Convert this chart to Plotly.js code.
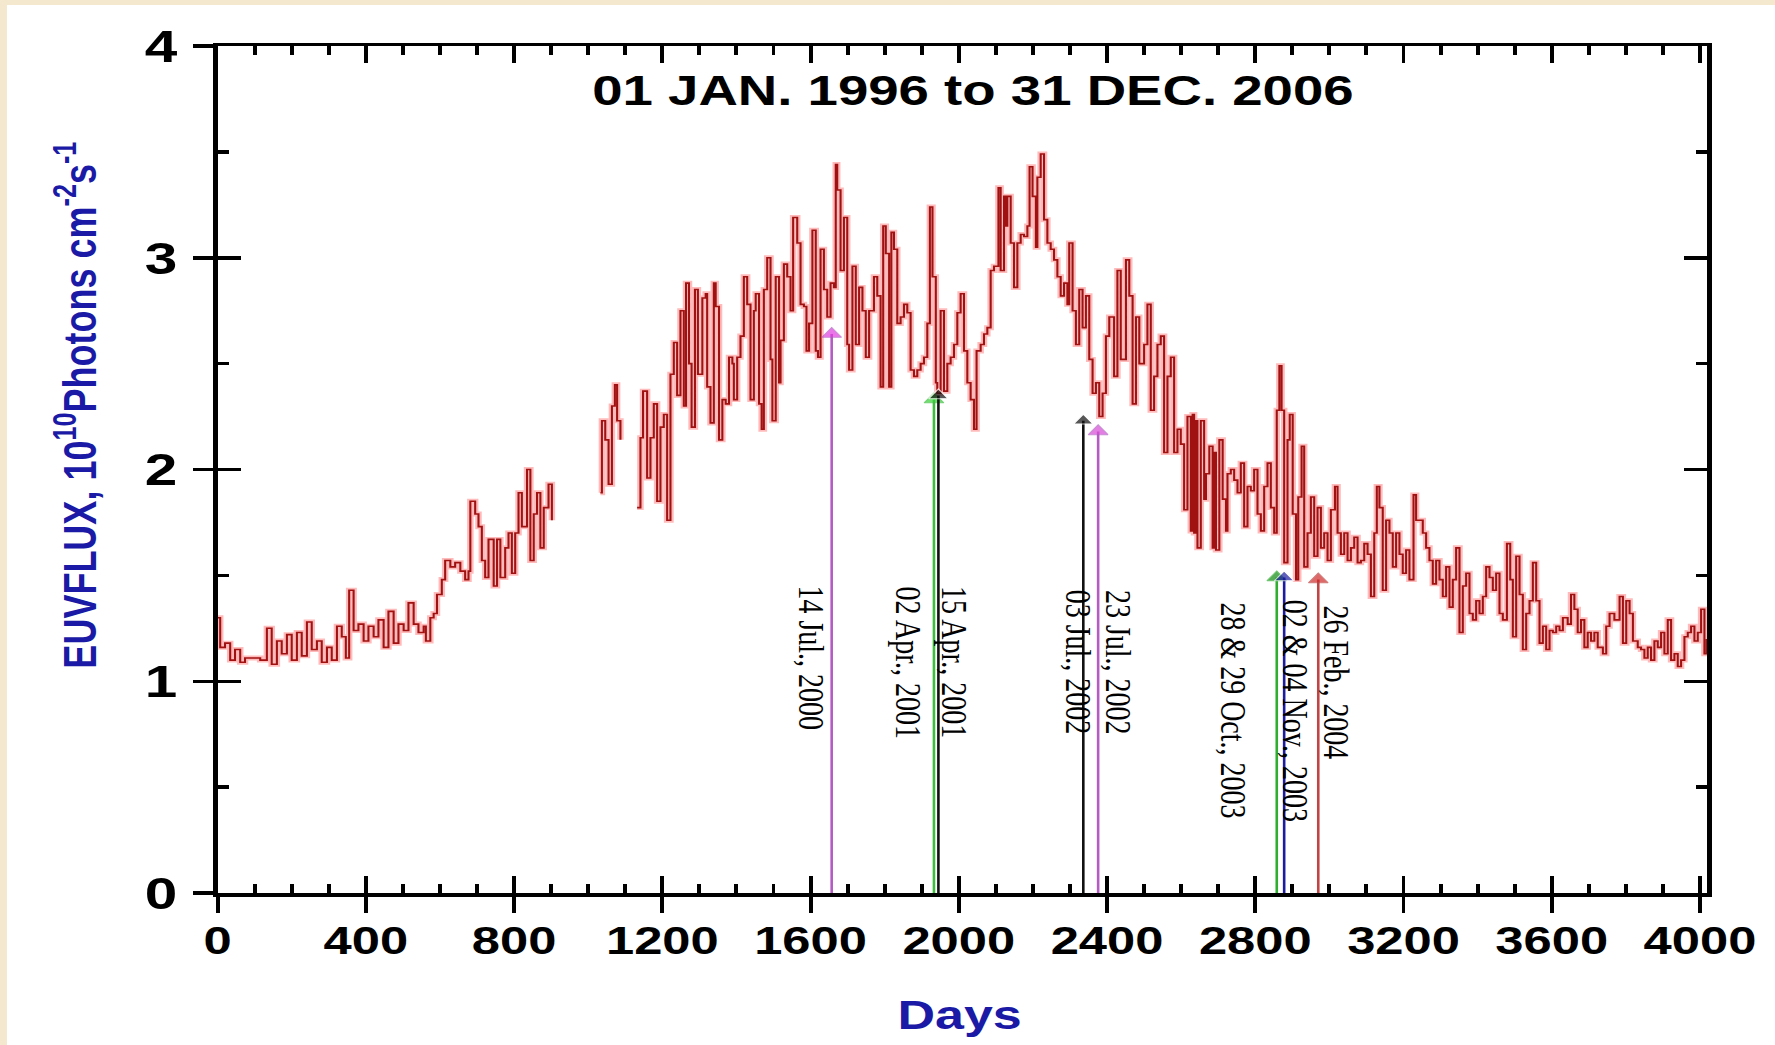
<!DOCTYPE html>
<html>
<head>
<meta charset="utf-8">
<script src="https://cdn.plot.ly/plotly-3.0.1.min.js"></script>
<style>
html,body{margin:0;padding:0;background:#f4e9cf;width:1775px;height:1045px;overflow:hidden;}
#wrap{position:absolute;left:7px;top:5px;width:1768px;height:1040px;background:#ffffff;}
#chart{position:absolute;left:0;top:0;width:1360px;height:1040px;transform:scaleX(1.3);transform-origin:0 0;}
</style>
</head>
<body>
<div id="wrap"><div id="chart"></div></div>
<script>
// ---- data ----
var days = [0,7,20,34,47,61,74,88,101,115,133,146,160,173,187,200,214,227,241,254,268,281,295,308,322,335,346,355,367,380,394,407,421,434,448,461,475,488,502,515,529,542,556,562,574,583,592,605,614,628,641,655,668,677,682,695,704,713,722,731,745,754,763,776,785,794,803,812,821,835,844,853,862,871,880,893,902,
960,
1033,1037,1046,1055,1064,1072,1078,1087,
1110,
1132,1141,1148,1159,1168,1177,1186,1195,1204,1213,1222,1231,1240,1249,1258,1264,1272,1279,1288,1296,
1308,1317,1321,1330,1339,1344,1353,1362,1371,1380,1389,1393,1402,1411,1420,1429,1438,1447,1452,1461,1468,1474,1483,1492,1497,1506,1515,1519,1528,1537,1546,1553,1564,1573,1582,1589,1596,1605,1614,1620,1627,1636,1645,1654,1663,1668,1672,1681,1690,1699,1704,1713,1722,1731,1740,1749,1758,1771,1780,1789,1796,1803,1812,1818,1825,1834,1843,1852,1861,1870,1879,1888,1897,1906,1915,1922,1929,1938,1942,1951,1960,1969,1978,1987,1996,2005,2014,2023,2032,2041,2048,2059,2068,2077,2086,2095,2107,2113,2122,2127,2131,2140,2149,2158,2167,2176,2185,2191,2199,2208,2212,2221,2230,2239,2248,2257,2266,2275,2284,2293,2298,2307,2316,2325,2334,2343,2352,2361,2370,2379,2388,2397,2406,2419,2428,2437,2451,2460,2469,2478,2487,2500,2509,2518,2527,2536,2545,2554,2563,2572,2581,2590,2599,2608,2617,2626,2631,2635,2640,2644,2653,2662,2667,2676,2685,2689,2694,2703,2712,2721,2725,2734,2743,2752,2761,2770,2779,2788,2797,2806,2815,2824,2833,2842,2851,2858,2865,2871,2878,2887,2893,2901,2910,2916,2925,2932,2941,2950,2959,2968,2977,2986,2995,3004,3015,3022,3031,3040,3049,3058,3067,3076,3085,3094,3103,3112,3121,3128,3135,3144,3153,3162,3171,3180,3189,3198,3207,3216,3227,3234,3243,3252,3261,3270,3279,3288,3297,3306,3315,3324,3333,3342,3351,3360,3369,3378,3387,3396,3405,3414,3423,3432,3441,3450,3459,3468,3479,3488,3495,3504,3513,3522,3531,3540,3549,3558,3567,3576,3585,3594,3603,3612,3621,3630,3643,3652,3661,3670,3679,3688,3697,3706,3715,3724,3738,3747,3756,3769,3783,3792,3801,3810,3819,3832,3841,3850,3859,3868,3877,3886,3895,3904,3913,3922,3931,3940,3949,3958,3967,3976,3985,3994,4003,4012,4018];

var euvFlux = [1.30,1.16,1.18,1.10,1.15,1.09,1.11,1.11,1.11,1.10,1.25,1.08,1.19,1.13,1.22,1.10,1.23,1.12,1.28,1.15,1.19,1.09,1.16,1.10,1.26,1.21,1.11,1.43,1.24,1.27,1.19,1.26,1.21,1.29,1.16,1.33,1.18,1.27,1.24,1.37,1.27,1.23,1.26,1.19,1.30,1.32,1.41,1.48,1.57,1.54,1.56,1.52,1.48,1.52,1.85,1.79,1.73,1.57,1.49,1.67,1.45,1.67,1.49,1.63,1.70,1.51,1.70,1.89,1.73,2.00,1.57,1.79,1.89,1.63,1.82,1.93,1.76,
null,
1.89,2.23,2.14,1.93,2.30,2.40,2.23,2.14,
null,
1.82,2.15,2.37,1.96,2.15,2.31,1.85,2.20,2.26,1.76,2.45,2.60,2.35,2.75,2.30,2.88,2.50,2.20,2.85,2.45,
2.81,2.83,2.39,2.22,2.88,2.77,2.14,2.33,2.31,2.53,2.50,2.33,2.53,2.63,2.91,2.78,2.33,2.75,2.83,2.31,2.19,2.85,3.00,2.52,2.23,2.91,2.41,2.61,2.97,2.91,2.75,3.19,3.07,2.78,2.77,2.56,2.69,3.13,2.56,2.53,3.04,2.85,2.72,2.88,2.86,3.44,3.32,2.94,3.19,2.59,2.47,2.96,2.59,2.86,2.75,2.53,2.75,2.91,2.82,2.39,3.15,3.02,2.39,3.12,3.04,2.69,2.72,2.78,2.74,2.47,2.44,2.47,2.50,2.53,2.69,3.24,2.91,2.41,2.36,2.75,2.37,2.50,2.53,2.59,2.74,2.83,2.56,2.41,2.33,2.19,2.56,2.59,2.64,2.67,2.94,2.96,3.33,2.94,3.29,3.15,3.29,3.07,2.86,3.07,3.11,3.10,3.15,3.43,3.29,3.05,3.38,3.49,3.18,3.07,3.04,2.99,2.91,2.82,2.88,2.78,3.07,2.75,2.59,2.85,2.67,2.82,2.52,2.36,2.41,2.25,2.36,2.63,2.72,2.44,2.94,2.52,2.99,2.82,2.31,2.72,2.50,2.59,2.78,2.28,2.44,2.59,2.63,2.08,2.44,2.53,2.08,2.19,2.12,1.81,2.25,1.71,2.26,1.70,2.23,1.63,2.23,1.86,1.98,2.11,1.63,2.08,1.62,2.14,1.86,1.71,1.98,2.00,1.95,1.89,2.03,1.73,1.92,1.90,2.00,1.79,1.71,1.92,2.03,1.82,1.70,2.28,2.49,2.28,1.56,2.14,2.26,1.79,1.48,1.87,2.11,1.54,1.70,1.87,1.59,1.82,1.63,1.70,1.57,1.81,1.92,1.70,1.60,1.70,1.57,1.63,1.68,1.56,1.57,1.65,1.60,1.40,1.70,1.92,1.82,1.43,1.76,1.70,1.54,1.70,1.60,1.51,1.62,1.48,1.88,1.76,1.76,1.70,1.63,1.57,1.46,1.57,1.48,1.40,1.54,1.35,1.48,1.63,1.23,1.45,1.51,1.32,1.29,1.38,1.32,1.40,1.54,1.49,1.43,1.51,1.32,1.29,1.65,1.48,1.21,1.59,1.41,1.15,1.32,1.38,1.56,1.38,1.18,1.26,1.15,1.24,1.23,1.26,1.24,1.30,1.27,1.41,1.34,1.23,1.29,1.16,1.23,1.19,1.23,1.16,1.13,1.26,1.32,1.29,1.40,1.18,1.38,1.32,1.19,1.16,1.15,1.11,1.16,1.10,1.19,1.16,1.23,1.13,1.29,1.10,1.13,1.07,1.10,1.21,1.23,1.26,1.19,1.23,1.34,1.13,1.20];

// events marked with arrows
var eventLabels = ["14 Jul., 2000","02 Apr., 2001","15 Apr., 2001","03 Jul., 2002","23 Jul., 2002","28 & 29 Oct., 2003","02 & 04 Nov., 2003","26 Feb., 2004"];
var eventDays   = [1657, 1933, 1945, 2336, 2376, 2858, 2878, 2970];
var eventFlux   = [2.64, 2.33, 2.35, 2.23, 2.18, 1.49, 1.49, 1.48];

var xTickVals = [0,400,800,1200,1600,2000,2400,2800,3200,3600,4000];
var yTickVals = [0,1,2,3,4];

// ---- styling ----
var lineColors   = ["#b45cc4","#3cbf3c","#111111","#111111","#b45cc4","#2fae2f","#1c1ca0","#c04444"];
var markerColors = ["#e23be0","#35d235","#111111","#111111","#d84ad8","#118a11","#1c1ca0","#d02a2a"];
var labelPos = [ // [day, flux] of label centre
  [1603,1.108],[1865,1.09],[1990,1.09],[2324,1.09],[2432,1.09],[2740,0.862],[2907,0.862],[3020,0.995]
];

var traces = [];
traces.push({x: days, y: euvFlux, mode:'lines', line:{color:'rgba(255,60,60,0.35)', width:5, shape:'hv'}, hoverinfo:'skip', showlegend:false, connectgaps:false});
traces.push({x: days, y: euvFlux, mode:'lines', line:{color:'#a01212', width:1.6, shape:'hv'}, showlegend:false, connectgaps:false});
for (var i=0;i<eventDays.length;i++){
  traces.push({x:[eventDays[i],eventDays[i]], y:[0,eventFlux[i]], mode:'lines+markers',
    line:{color:lineColors[i], width:2},
    marker:{symbol:'triangle-up', size:[0,13], color:markerColors[i]},
    showlegend:false, name:eventLabels[i]});
}
// helper traces for the overlay axes (outer tick marks, tick labels)
traces.push({x:[2000], y:[2], xaxis:'x2', yaxis:'y2', mode:'markers', marker:{opacity:0}, hoverinfo:'skip', showlegend:false});
traces.push({x:[2000], y:[2], xaxis:'x3', yaxis:'y3', mode:'markers', marker:{opacity:0}, hoverinfo:'skip', showlegend:false});

var tickFont = {family:'Liberation Sans, Arial, sans-serif', color:'#000', weight:'bold'};
var annotations = [];
for (var j=0;j<eventLabels.length;j++){
  annotations.push({x:labelPos[j][0], y:labelPos[j][1], xref:'x', yref:'y', text:eventLabels[j],
    showarrow:false, textangle:90, font:{family:'Liberation Serif, Times New Roman, serif', size:28, color:'#000'}});
}
annotations.push({x:0.5066, y:0.977, xref:'paper', yref:'paper', showarrow:false,
  text:'01 JAN. 1996 to 31 DEC. 2006', font:{family:'Liberation Sans, Arial, sans-serif', size:42, color:'#000', weight:'bold'}});
annotations.push({x:0.4985, y:-0.172, xref:'paper', yref:'paper', showarrow:false,
  text:'Days', font:{family:'Liberation Sans, Arial, sans-serif', size:40, color:'#1a1aa6', weight:'bold'}});
annotations.push({x:-0.1165, y:0.576, xref:'paper', yref:'paper', showarrow:false, textangle:-90,
  text:'EUVFLUX, 10<sup>10</sup>Photons cm<sup>-2</sup>s<sup>-1</sup>', font:{family:'Liberation Sans, Arial, sans-serif', size:36, color:'#1a1aa6', weight:'bold'}});

var layout = {
  width:1360, height:1040,
  margin:{l:162, r:52, t:41, b:152},
  paper_bgcolor:'#ffffff', plot_bgcolor:'#ffffff',
  showlegend:false,
  xaxis:{range:[0,4020], showgrid:false, zeroline:false, showline:true, linecolor:'#000', linewidth:3.5,
    mirror:'ticks', ticks:'inside', ticklen:17, tickwidth:3, tickcolor:'#000', tickvals:xTickVals,
    minor:{ticks:'inside', dtick:100, tick0:0, ticklen:9, tickwidth:3, tickcolor:'#000', showgrid:false},
    showticklabels:false},
  yaxis:{range:[0,4], showgrid:false, zeroline:false, showline:true, linecolor:'#000', linewidth:3.5,
    mirror:'ticks', ticks:'inside', ticklen:18, tickwidth:3.5, tickcolor:'#000', tickvals:yTickVals,
    minor:{ticks:'inside', dtick:0.5, tick0:0, ticklen:9, tickwidth:3.5, tickcolor:'#000', showgrid:false},
    showticklabels:false},
  // outer halves of the major ticks
  xaxis2:{overlaying:'x', anchor:'y2', side:'bottom', range:[0,4020], showgrid:false, zeroline:false, showline:false,
    ticks:'outside', ticklen:19, tickwidth:3, tickcolor:'#000', tickvals:xTickVals, showticklabels:false},
  yaxis2:{overlaying:'y', anchor:'x2', side:'left', range:[0,4], showgrid:false, zeroline:false, showline:false,
    ticks:'outside', ticklen:18, tickwidth:3.5, tickcolor:'#000', tickvals:yTickVals, showticklabels:false},
  // tick labels
  xaxis3:{overlaying:'x', anchor:'y3', side:'bottom', range:[0,4020], showgrid:false, zeroline:false, showline:false,
    ticks:'', tickvals:xTickVals, tickfont:Object.assign({size:39}, tickFont), ticklabelstandoff:21},
  yaxis3:{overlaying:'y', anchor:'x3', side:'left', range:[0,4], showgrid:false, zeroline:false, showline:false,
    ticks:'', tickvals:yTickVals, tickfont:Object.assign({size:45}, tickFont), ticklabelstandoff:30},
  annotations:annotations
};

Plotly.newPlot('chart', traces, layout, {displayModeBar:false, staticPlot:true});
</script>
</body>
</html>
